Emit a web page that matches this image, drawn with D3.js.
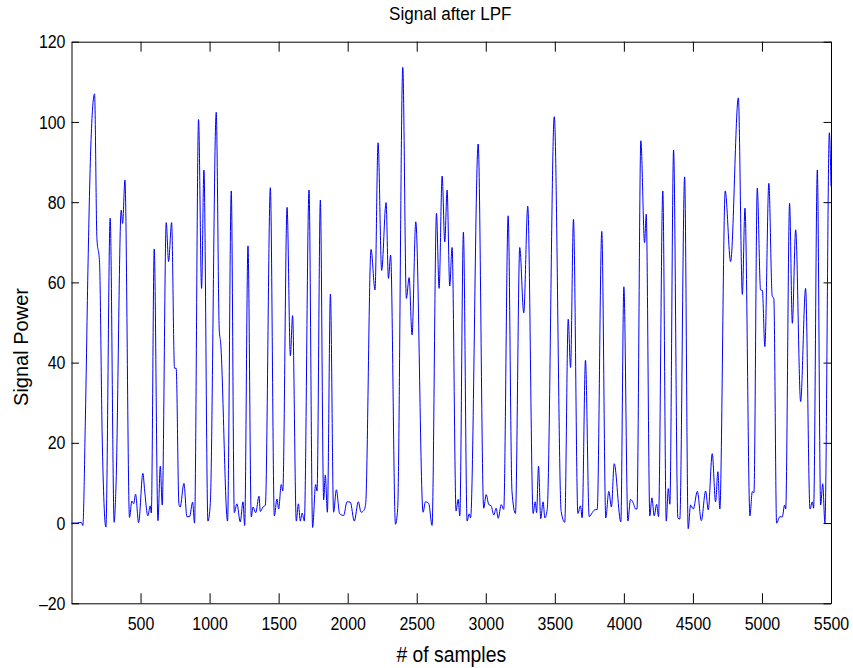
<!DOCTYPE html>
<html>
<head>
<meta charset="utf-8">
<script src="https://cdn.jsdelivr.net/npm/d3@7"></script>
<style>
  body { margin: 0; background: #fff; }
  .axis text { font-family: "Liberation Sans", Arial, sans-serif; font-size: 19px; fill: #000; }
  .axis path, .axis line { stroke: #000; }
</style>
</head>
<body>
<div id="chart"></div>
<script>
// sample index of each key point
var sampleIdx = [
  0, 40, 70, 82, 100, 120, 140, 167, 184, 203, 222, 249, 280, 309, 322, 360, 370, 387,
  420, 437, 450, 464, 486, 517, 530, 553, 570, 578, 599, 626, 643, 657, 686, 703, 725,
  746, 758, 778, 787, 814, 836, 855, 877, 891, 920, 942, 959, 988, 1005, 1048, 1070,
  1080, 1130, 1157, 1179, 1198, 1222, 1242, 1254, 1278, 1302, 1314, 1334, 1358, 1367,
  1387, 1404, 1440, 1469, 1488, 1500, 1519, 1530, 1561, 1585, 1601, 1628, 1643, 1657,
  1670, 1686, 1720, 1746, 1768, 1778, 1802, 1826, 1838, 1853, 1875, 1898, 1918, 1942,
  1971, 1995, 2019, 2048, 2077, 2097, 2116, 2130, 2169, 2198, 2220, 2246, 2278, 2295,
  2311, 2346, 2362, 2399, 2425, 2445, 2466, 2493, 2546, 2563, 2587, 2611, 2643, 2662,
  2684, 2703, 2720, 2739, 2756, 2785, 2800, 2812, 2838, 2865, 2880, 2890, 2945, 2985,
  3003, 3022, 3039, 3058, 3075, 3090, 3112, 3130, 3162, 3190, 3215, 3246, 3275, 3304,
  3343, 3358, 3368, 3382, 3398, 3415, 3428, 3445, 3496, 3546, 3572, 3597, 3614, 3635,
  3667, 3686, 3698, 3722, 3749, 3771, 3788, 3807, 3840, 3869, 3891, 3910, 3930, 3978,
  4000, 4029, 4048, 4068, 4085, 4095, 4123, 4150, 4162, 4188, 4203, 4220, 4237, 4251,
  4282, 4307, 4322, 4333, 4360, 4391, 4405, 4440, 4466, 4483, 4503, 4532, 4561, 4592,
  4611, 4640, 4664, 4681, 4695, 4734, 4773, 4829, 4858, 4877, 4913, 4930, 4942, 4966,
  4990, 5003, 5021, 5050, 5074, 5086, 5106, 5130, 5147, 5164, 5172, 5200, 5220, 5244,
  5280, 5316, 5348, 5365, 5374, 5401, 5425, 5440, 5456, 5488, 5500
];

// signal power at those samples
var power = [
  0, 0, 0.2, -0.6, 25, 65, 94, 107, 71, 65, 22, -1, 76, 0.2, 9, 78, 74.7, 85.5,
  1.4, 5.5, 4.8, 7.2, 0.1, 12.4, 8, 1.8, 4.3, 2.5, 68.3, 0.6, 14.2, 4.5, 74.9, 65.2, 74.9,
  38.6, 38.6, 4.7, 4, 9.9, 1.6, 1.6, 5.2, 0, 100.6, 58.5, 88, 0.5, 4.8, 102.4, 48.1,
  45, 0.5, 82.8, 2.6, 4.8, 0.3, 5.3, -0.6, 69.1, 1.5, 4, 2.6, 6.7, 2.9,
  4, 4.5, 83.6, 1.8, 6, 3.5, 9.6, 8, 78.7, 41.7, 51.7, 0.5, 4.8, 0.5,
  2.5, 0.5, 83, -1.1, 9.6, 8, 80.5, 5.8, 12, 2.7, 57.1, 2.7, 8.3, 2.3,
  1.9, 5.3, 5.2, 0.5, 5.3, 2.7, 3.1, 4.7, 68.2, 58.1, 94.8, 63, 79.9, 61,
  66.8, -0.3, 3.6, 113.6, 56, 61.2, 46.9, 75.1, 2.7, 5.3, 4.9, -0.6, 77.2, 58.5,
  86.5, 70.1, 83, 59.1, 68.7, 3, 5.9, 1.8, 72.5, 0.5, 2.3, 1.3, 94.5, 3.7,
  7.1, 4.6, 4.3, 2, 3.7, 1.2, 4.6, 3.4, 76.6, 7.8, 2.4, 68.7, 52.4, 79,
  2.4, 5.3, 2.6, 14.2, 1.1, 5.3, 1.3, 3.4, 101.3, 2.9, 0.2, 50.8, 38.8, 75.7,
  2.4, 4.3, 1.3, 40.6, 1.6, 2.6, 3.3, 3.4, 72.7, 1.3, 7.9, 4, 14.8, 0.3,
  58.9, 0.5, 5.9, 5, 3.5, 3.5, 95.3, 69.9, 77, 1.8, 6.3, 1.8, 4.7, 1.6,
  82.8, 0.5, 8.6, 4.7, 93, 1.3, 1, 86.3, -1.4, 4.5, 3.5, 7.9, 0.6, 8,
  3.3, 17.3, 5.3, 12.8, 3.5, 82.8, 65.2, 106, 57, 78.5, 1.8, 7.8, 7.6, 83.5,
  58.1, 58, 44, 84.7, 56.7, 55.9, 0, 1.6, 1.5, 4.5, 3.5, 79.7, 49.8, 73.1,
  30.3, 58.5, 3.5, 5.3, 3.7, 88, 4.5, 9.8, 0, 97.3, 84
];

var xTicks = [500, 1000, 1500, 2000, 2500, 3000, 3500, 4000, 4500, 5000, 5500];
var yTicks = [-20, 0, 20, 40, 60, 80, 100, 120];

var W = 853, H = 668;
var margin = {top: 41.7, right: 22, bottom: 64.7, left: 71.5},
    width = W - margin.left - margin.right,
    height = H - margin.top - margin.bottom;

// no narrow helvetica installed, so squeeze the text horizontally
var squeeze = 0.84;

var svg = d3.select("#chart").append("svg")
    .attr("width", W)
    .attr("height", H);

var g = svg.append("g")
    .attr("transform", "translate(" + margin.left + "," + margin.top + ")");

var x = d3.scaleLinear().domain([0, 5500]).range([0, width]);
var y = d3.scaleLinear().domain([-20, 120]).range([height, 0]);

var fmt = function(d) { return d < 0 ? "\u2013" + Math.abs(d) : String(d); };

// box axes with inward ticks, matlab style
g.append("g")
    .attr("class", "axis")
    .attr("transform", "translate(0," + height + ")")
    .call(d3.axisBottom(x).tickValues(xTicks).tickFormat(fmt)
      .tickSizeInner(-10).tickSizeOuter(0).tickPadding(13))
    .selectAll("text")
      .attr("transform", "scale(" + squeeze + ",1)");

g.append("g")
    .attr("class", "axis")
    .call(d3.axisTop(x).tickValues(xTicks).tickFormat("")
      .tickSizeInner(-10).tickSizeOuter(0));

g.append("g")
    .attr("class", "axis")
    .call(d3.axisLeft(y).tickValues(yTicks).tickFormat(fmt)
      .tickSizeInner(-7.5).tickSizeOuter(0).tickPadding(6))
    .selectAll("text")
      .attr("x", -6 / squeeze)
      .attr("transform", "scale(" + squeeze + ",1)");

g.append("g")
    .attr("class", "axis")
    .attr("transform", "translate(" + width + ",0)")
    .call(d3.axisRight(y).tickValues(yTicks).tickFormat("")
      .tickSizeInner(-7.5).tickSizeOuter(0));

// the signal
var line = d3.line()
    .x(function(d, i) { return x(sampleIdx[i]); })
    .y(function(d) { return y(d); })
    .curve(d3.curveMonotoneX);

g.append("path")
    .datum(power)
    .attr("fill", "none")
    .attr("stroke", "#0000ff")
    .attr("stroke-width", 1)
    .attr("d", line);

// labels
svg.append("text")
    .attr("transform", "translate(" + (margin.left + width / 2 - 1) + ",19.5) scale(0.9,1)")
    .attr("text-anchor", "middle")
    .style("font-family", "'Liberation Sans', Arial, sans-serif")
    .style("font-size", "19px")
    .text("Signal after LPF");

svg.append("text")
    .attr("transform", "translate(" + (margin.left + width / 2) + ",661.5) scale(0.88,1)")
    .attr("text-anchor", "middle")
    .style("font-family", "'Liberation Sans', Arial, sans-serif")
    .style("font-size", "22px")
    .text("# of samples");

svg.append("text")
    .attr("transform", "translate(28,347) rotate(-90)")
    .attr("text-anchor", "middle")
    .style("font-family", "'Liberation Sans', Arial, sans-serif")
    .style("font-size", "20px")
    .text("Signal Power");
</script>
</body>
</html>
